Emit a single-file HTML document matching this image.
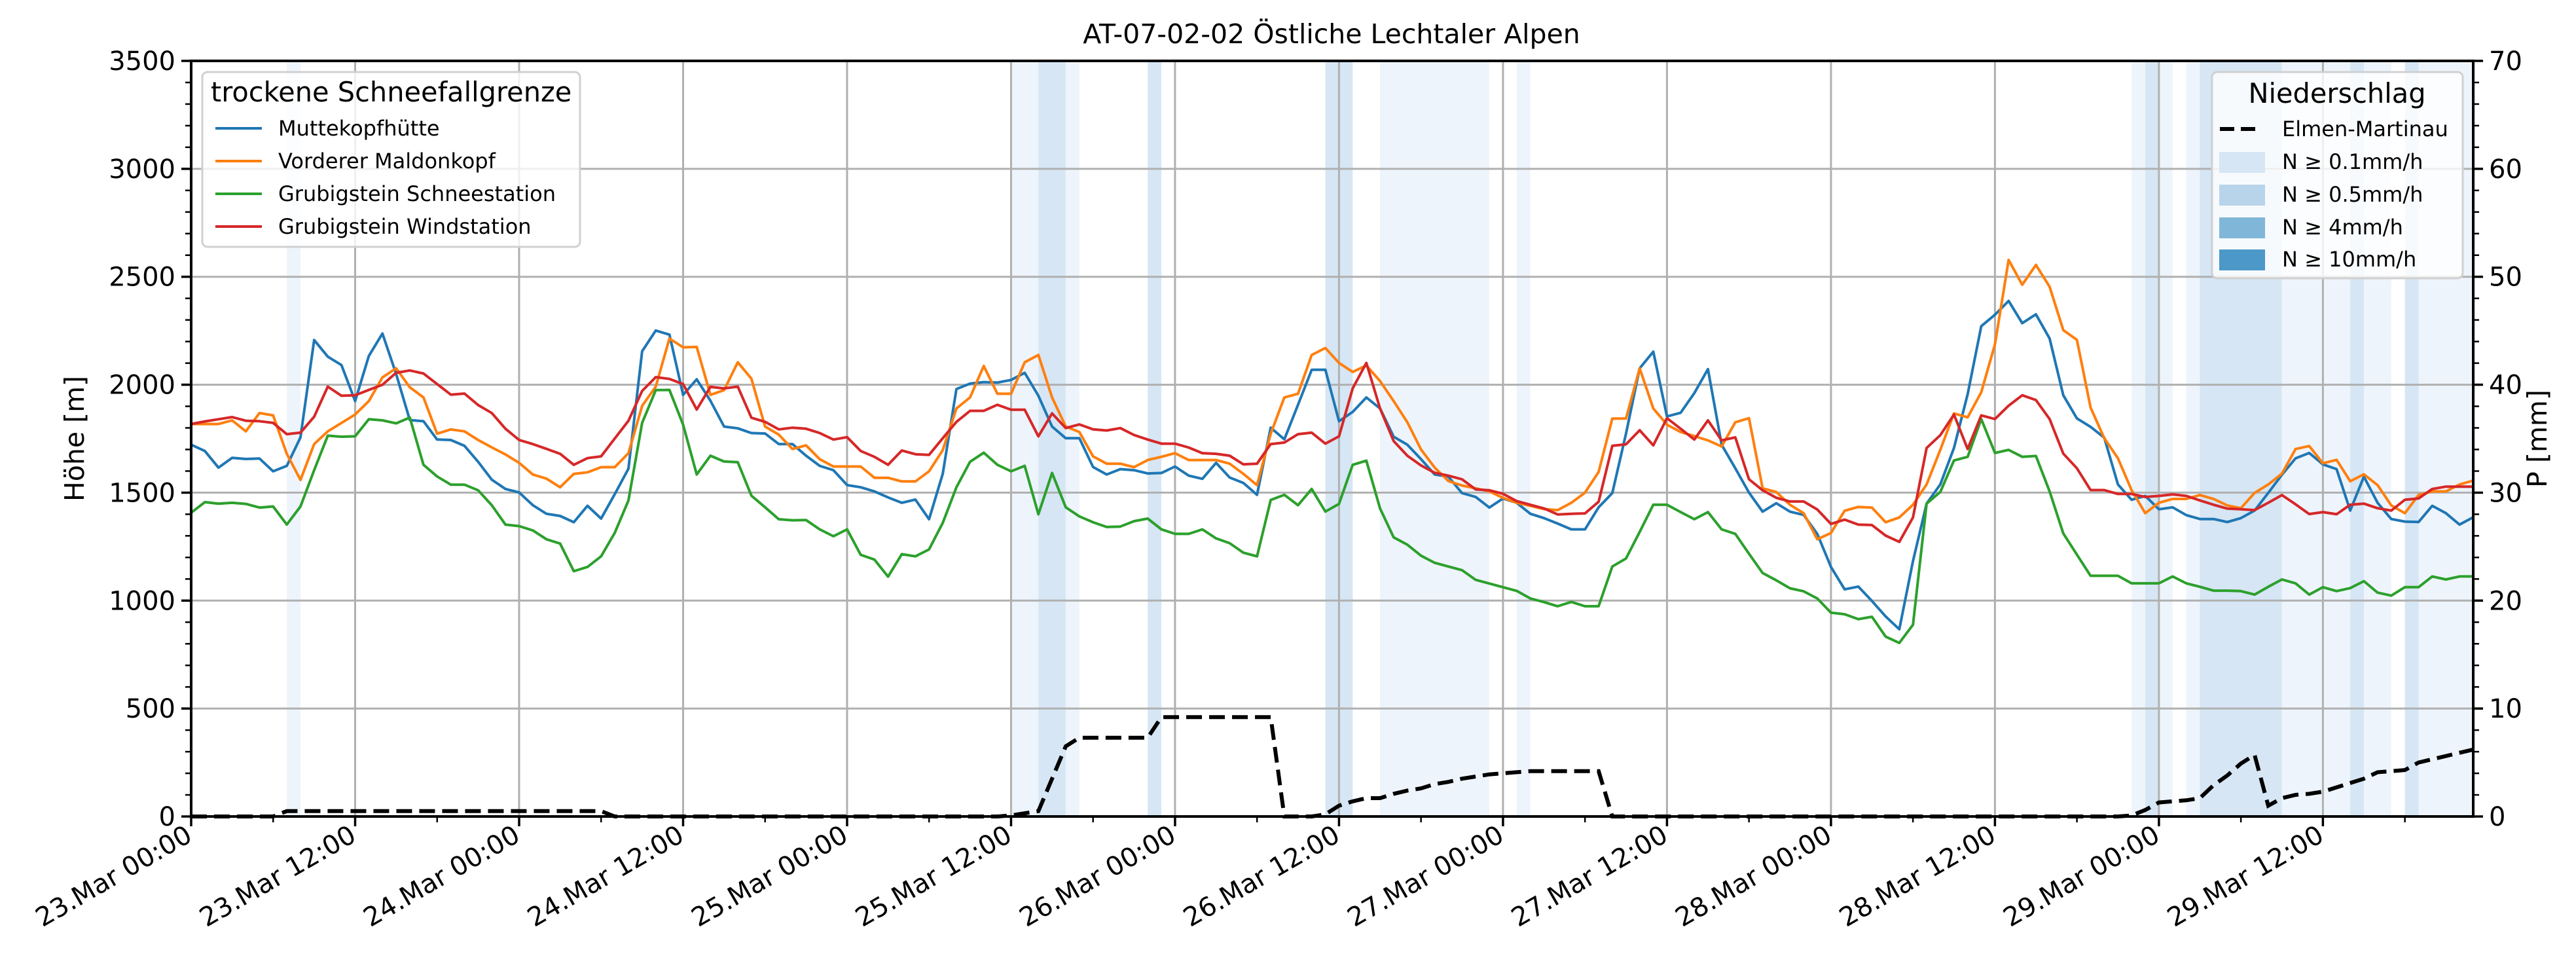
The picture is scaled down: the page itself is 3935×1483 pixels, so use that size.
<!DOCTYPE html>
<html><head><meta charset="utf-8">
<style>
html,body{margin:0;padding:0;background:#fff;}
svg{display:block;font-family:"DejaVu Sans","Liberation Sans",sans-serif;}
</style></head>
<body>
<svg id="chart" width="3935" height="1483" viewBox="0 0 3935 1483" xmlns="http://www.w3.org/2000/svg">
<rect x="0" y="0" width="3935" height="1483" fill="#fff"/>
<g id="bands"></g>
<g id="grid"></g>
<g id="series"></g>
<g id="axes"></g>
<text x="2034" y="66" font-size="41" text-anchor="middle">AT-07-02-02 Östliche Lechtaler Alpen</text>
<text transform="translate(128,670) rotate(-90)" font-size="41" text-anchor="middle">Höhe [m]</text>
<text transform="translate(3890,670) rotate(-90)" font-size="41" text-anchor="middle">P [mm]</text>
<g>
<rect x="309" y="110" width="577" height="267" rx="8" fill="#fff" fill-opacity="0.8" stroke="#d0d0d0" stroke-width="3"/>
<text x="322" y="155" font-size="41.5">trockene Schneefallgrenze</text>
<line x1="329" y1="196" x2="400" y2="196" stroke="#1f77b4" stroke-width="4"/><text x="425" y="207" font-size="32">Muttekopfhütte</text>
<line x1="329" y1="246" x2="400" y2="246" stroke="#ff7f0e" stroke-width="4"/><text x="425" y="257" font-size="32">Vorderer Maldonkopf</text>
<line x1="329" y1="296" x2="400" y2="296" stroke="#2ca02c" stroke-width="4"/><text x="425" y="307" font-size="32">Grubigstein Schneestation</text>
<line x1="329" y1="346" x2="400" y2="346" stroke="#d62728" stroke-width="4"/><text x="425" y="357" font-size="32">Grubigstein Windstation</text>
</g>
<g>
<rect x="3379" y="110" width="383" height="315" rx="8" fill="#fff" fill-opacity="0.8" stroke="#d0d0d0" stroke-width="3"/>
<text x="3570" y="157" font-size="41.5" text-anchor="middle">Niederschlag</text>
<line x1="3391" y1="197" x2="3449" y2="197" stroke="#000" stroke-width="6" stroke-dasharray="22,10"/><text x="3486" y="208" font-size="32">Elmen-Martinau</text>
<rect x="3390" y="232" width="70" height="32" fill="#d6e6f4"/><text x="3486" y="258" font-size="32">N ≥ 0.1mm/h</text>
<rect x="3390" y="282" width="70" height="32" fill="#b8d4ea"/><text x="3486" y="308" font-size="32">N ≥ 0.5mm/h</text>
<rect x="3390" y="332" width="70" height="32" fill="#80b7d8"/><text x="3486" y="358" font-size="32">N ≥ 4mm/h</text>
<rect x="3390" y="381" width="70" height="32" fill="#4b98c9"/><text x="3486" y="407" font-size="32">N ≥ 10mm/h</text>
</g>
</svg>
<script>
const hoursStart = 0, hoursEnd = 167;
const xTickLabels = ["23.Mar 00:00","23.Mar 12:00","24.Mar 00:00","24.Mar 12:00","25.Mar 00:00","25.Mar 12:00","26.Mar 00:00","26.Mar 12:00","27.Mar 00:00","27.Mar 12:00","28.Mar 00:00","28.Mar 12:00","29.Mar 00:00","29.Mar 12:00"];
const yTicks = [0,500,1000,1500,2000,2500,3000,3500];
const y2Ticks = [0,10,20,30,40,50,60,70];
const muttekopf = [1722,1693,1616,1661,1656,1658,1599,1624,1756,2207,2130,2091,1924,2133,2237,2050,1836,1831,1746,1744,1717,1643,1560,1517,1501,1442,1402,1392,1363,1439,1380,1493,1611,2155,2251,2232,1953,2025,1926,1806,1798,1776,1774,
1725,1725,1671,1624,1604,1535,1525,1506,1478,1453,1468,1377,1587,1980,2005,2012,2010,2022,2055,1949,1806,1752,1752,1619,1584,1609,1604,1589,1591,1621,1579,1564,1638,1570,1545,1490,1801,1747,1907,2069,2069,1831,
1874,1941,1890,1759,1722,1655,1584,1574,1498,1480,1431,1473,1453,1402,1382,1357,1330,1330,1432,1498,1773,2076,2153,1853,1870,1961,2072,1722,1613,1500,1412,1451,1412,1397,1309,1156,1052,1065,998,927,867,1183,
1449,1538,1707,1956,2271,2324,2388,2285,2326,2214,1951,1844,1805,1755,1538,1467,1485,1423,1432,1396,1378,1378,1364,1382,1417,1499,1583,1659,1684,1631,1609,1417,1574,1453,1378,1366,1364,1439,1405,1352,1386];
const maldonkopf = [1818,1818,1818,1835,1784,1869,1858,1680,1559,1725,1784,1823,1862,1924,2034,2076,1988,1941,1773,1793,1784,1744,1710,1677,1638,1584,1565,1525,1587,1594,1618,1618,1683,1902,1991,2214,2173,2175,1953,1975,2104,2028,1806,
1769,1702,1719,1655,1621,1621,1621,1569,1569,1552,1552,1599,1697,1890,1941,2087,1958,1958,2104,2138,1941,1806,1781,1668,1634,1634,1618,1651,1666,1683,1651,1651,1651,1634,1587,1535,1773,1941,1958,2138,2170,2101,
2059,2089,2017,1924,1826,1700,1616,1554,1533,1520,1506,1476,1453,1439,1424,1419,1453,1500,1596,1843,1843,2076,1890,1815,1781,1762,1742,1714,1826,1845,1520,1503,1444,1405,1284,1313,1416,1434,1431,1363,1385,1444,
1538,1698,1867,1849,1965,2187,2578,2463,2555,2454,2253,2208,1894,1752,1659,1512,1405,1453,1471,1471,1489,1471,1441,1428,1499,1538,1588,1702,1716,1636,1652,1553,1585,1535,1441,1405,1489,1506,1506,1538,1556];
const schneestation = [1407,1456,1449,1453,1448,1431,1436,1352,1436,1604,1764,1759,1761,1840,1835,1821,1848,1629,1575,1537,1537,1511,1442,1352,1345,1325,1284,1264,1136,1156,1205,1314,1464,1823,1975,1976,1815,1584,1671,1644,1641,1486,1432,
1377,1372,1373,1330,1298,1330,1212,1190,1111,1215,1205,1237,1360,1525,1643,1685,1629,1599,1624,1400,1591,1432,1390,1363,1341,1343,1368,1380,1330,1309,1309,1330,1288,1266,1222,1205,1466,1490,1442,1517,1412,1448,
1629,1648,1427,1293,1259,1208,1175,1158,1141,1096,1079,1062,1045,1010,993,974,994,974,974,1158,1195,1318,1444,1444,1410,1377,1410,1330,1309,1217,1128,1094,1057,1043,1010,944,937,914,925,833,804,888,
1449,1503,1649,1666,1841,1684,1698,1666,1670,1506,1311,1213,1115,1115,1115,1080,1080,1080,1112,1080,1064,1046,1046,1044,1028,1064,1098,1080,1028,1062,1044,1058,1090,1037,1023,1062,1062,1112,1098,1112,1112];
const windstation = [1818,1830,1840,1850,1833,1831,1823,1771,1778,1852,1991,1949,1951,1976,2000,2055,2066,2052,2003,1954,1959,1906,1869,1796,1744,1725,1703,1680,1629,1660,1668,1751,1833,1971,2035,2027,2003,1885,1990,1983,1991,1847,1828,
1793,1801,1796,1776,1746,1757,1693,1666,1629,1695,1678,1675,1752,1828,1879,1879,1907,1884,1884,1761,1867,1799,1816,1793,1788,1799,1767,1746,1727,1727,1709,1683,1680,1671,1631,1634,1725,1732,1771,1778,1727,1761,
1983,2101,1890,1739,1671,1626,1592,1579,1562,1515,1511,1495,1461,1444,1427,1399,1402,1404,1458,1717,1724,1789,1719,1845,1796,1746,1835,1742,1756,1562,1511,1476,1459,1459,1422,1355,1375,1352,1350,1301,1272,1385,
1707,1766,1862,1702,1858,1841,1903,1951,1929,1841,1681,1613,1512,1512,1494,1494,1480,1485,1492,1485,1464,1444,1426,1423,1419,1453,1489,1446,1401,1410,1400,1444,1449,1428,1417,1467,1473,1517,1528,1528,1528];
const precipSum = [0,0,0,0,0,0,0,0.5,0.5,0.5,0.5,0.5,0.5,0.5,0.5,0.5,0.5,0.5,0.5,0.5,0.5,0.5,0.5,0.5,0.5,0.5,0.5,0.5,0.5,0.5,0.5,0,0,0,0,0,0,0,0,0,
0,0,0,0,0,0,0,0,0,0,0,0,0,0,0,0,0,0,0,0,0.1,0.3,0.5,3.5,6.5,7.3,7.3,7.3,7.3,7.3,7.3,9.2,9.2,9.2,9.2,9.2,9.2,9.2,9.2,9.2,
0,0,0,0.2,1.0,1.4,1.7,1.7,2.1,2.4,2.6,3.0,3.2,3.5,3.7,3.9,4.0,4.1,4.2,4.2,4.2,4.2,4.2,4.2,0,0,0,0,0,0,0,0,0,0,0,0,0,0,0,0,
0,0,0,0,0,0,0,0,0,0,0,0,0,0,0,0,0,0,0,0,0,0,0.1,0.6,1.3,1.4,1.5,1.7,2.9,3.8,4.9,5.7,1.0,1.7,2.0,2.1,2.3,2.7,3.1,3.5,4.1,4.2,4.3,5.0,5.3,5.6,5.9,6.2];
const bandStart = [7,60,62,64,70,83,87,97,142,143,144,146,147,153,158,159,162,163];
const bandEnd   = [8,62,64,65,71,85,95,98,143,144,145,147,153,158,159,161,163,167];
const bandLevel = [1,1,2,1,2,2,1,1,1,2,1,1,2,1,2,1,2,1];

const NS='http://www.w3.org/2000/svg';
const L=292,R=3778,T=93,B=1247;
const xS=h=>L+(h-hoursStart)/(hoursEnd-hoursStart)*(R-L);
const yS=v=>B-v/3500*(B-T);
const y2S=v=>B-v/70*(B-T);
function mk(tag,attrs,parent){const e=document.createElementNS(NS,tag);for(const k in attrs)e.setAttribute(k,attrs[k]);parent.appendChild(e);return e;}
const gB=document.getElementById('bands'),gG=document.getElementById('grid'),gS=document.getElementById('series'),gA=document.getElementById('axes');
const bandColors={1:'#eef4fb',2:'#d6e6f4'};
for(let i=0;i<bandStart.length;i++){
  const r=mk('rect',{x:xS(bandStart[i]),y:T,width:xS(bandEnd[i])-xS(bandStart[i]),height:B-T,fill:bandColors[bandLevel[i]]},gB);
  
  
}
xTickLabels.forEach((t,i)=>{const x=xS(i*12);mk('line',{x1:x,y1:T,x2:x,y2:B,stroke:'#b0b0b0','stroke-width':3},gG);});
yTicks.forEach(v=>{const y=yS(v);mk('line',{x1:L,y1:y,x2:R,y2:y,stroke:'#b0b0b0','stroke-width':3},gG);});
function line(arr,scale,color,name,extra){
  const pts=arr.map((v,i)=>xS(i).toFixed(1)+','+scale(v).toFixed(1)).join(' ');
  const p=mk('polyline',Object.assign({points:pts,fill:'none',stroke:color,'stroke-width':4,'stroke-linejoin':'round'},extra||{}),gS);
  
  
}
line(muttekopf,yS,'#1f77b4','series-muttekopfhuette');
line(maldonkopf,yS,'#ff7f0e','series-vorderer-maldonkopf');
line(schneestation,yS,'#2ca02c','series-grubigstein-schneestation');
line(windstation,yS,'#d62728','series-grubigstein-windstation');
line(precipSum,y2S,'#000','series-elmen-martinau',{'stroke-width':6,'stroke-dasharray':'24,11','stroke-linejoin':'miter'});
mk('rect',{x:L,y:T,width:R-L,height:B-T,fill:'none',stroke:'#000','stroke-width':4},gA);
for(let h=0;h<=hoursEnd;h+=6){const x=xS(h);const major=h%12===0;mk('line',{x1:x,y1:B,x2:x,y2:B+(major?15:9),stroke:'#000','stroke-width':major?3.5:2.5},gA);}
xTickLabels.forEach((t,i)=>{const x=xS(i*12);const e=mk('text',{transform:`translate(${x+4},${B+36}) rotate(-30)`,'font-size':40,'text-anchor':'end'},gA);e.textContent=t;
  
  });
for(let v=0;v<=3500;v+=100){const y=yS(v);const major=v%500===0;mk('line',{x1:L-(major?15:9),y1:y,x2:L,y2:y,stroke:'#000','stroke-width':major?3.5:2.5},gA);}
yTicks.forEach(v=>{const e=mk('text',{x:L-24,y:yS(v)+14,'font-size':40,'text-anchor':'end'},gA);e.textContent=v;
  
  });
for(let v=0;v<=70;v+=2){const y=y2S(v);const major=v%10===0;mk('line',{x1:R,y1:y,x2:R+(major?15:9),y2:y,stroke:'#000','stroke-width':major?3.5:2.5},gA);}
y2Ticks.forEach(v=>{const e=mk('text',{x:R+24,y:y2S(v)+14,'font-size':40,'text-anchor':'start'},gA);e.textContent=v;
  
  });
</script>
</body></html>
